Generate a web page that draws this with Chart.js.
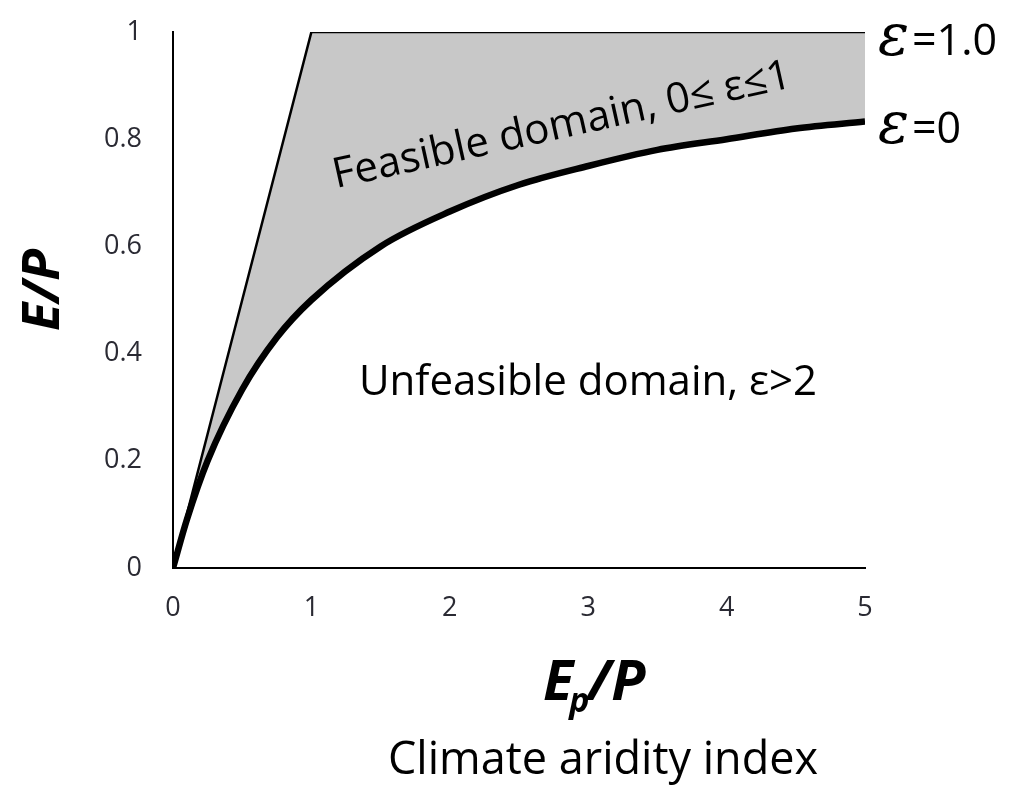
<!DOCTYPE html>
<html>
<head>
<meta charset="utf-8">
<script src="https://cdn.jsdelivr.net/npm/chart.js@4/dist/chart.umd.min.js"></script>
<style>
  html, body { margin: 0; padding: 0; background: #fff; }
  #wrap { width: 1019px; height: 785px; }
</style>
</head>
<body>
<div id="wrap"><canvas id="chart"></canvas></div>
<script>
// aridity index Ep/P
const aridity = [0, 0.1, 0.25, 0.5, 0.75, 1, 1.5, 2, 2.5, 3, 3.5, 4, 4.5, 5];
// upper bound, eps = 1.0
const upperLimit = [0, 0.1, 0.25, 0.5, 0.75, 1, 1, 1, 1, 1, 1, 1, 1, 1];
// lower bound, eps = 0
const lowerLimit = [0, 0.09, 0.2, 0.333, 0.43, 0.5, 0.6, 0.665, 0.715, 0.75, 0.78, 0.8, 0.82, 0.833];
const xTicks = [0, 1, 2, 3, 4, 5];
const yTicks = [0, 0.2, 0.4, 0.6, 0.8, 1];

const toPts = (ys) => aridity.map((x, i) => ({ x: x, y: ys[i] }));

const labelsPlugin = {
  id: "labels",
  afterDraw(chart) {
    const ctx = chart.ctx;
    ctx.save();
    ctx.fillStyle = "#000";

    // y title
    ctx.save();
    ctx.translate(44, 290);
    ctx.rotate(-Math.PI / 2);
    ctx.font = "italic bold 52px 'Open Sans'";
    ctx.textAlign = "center";
    ctx.textBaseline = "middle";
    ctx.fillText("E/P", 0, 0);
    ctx.restore();

    // x title with subscript
    ctx.font = "italic bold 56px 'Open Sans'";
    ctx.textBaseline = "alphabetic";
    ctx.textAlign = "left";
    let x = 543;
    ctx.fillText("E", x, 700);
    x += ctx.measureText("E").width;
    ctx.font = "italic bold 34px 'Open Sans'";
    ctx.fillText("p", x - 4, 712);
    x += ctx.measureText("p").width - 6;
    ctx.font = "italic bold 56px 'Open Sans'";
    ctx.fillText("/P", x, 700);

    ctx.font = "45px 'Open Sans'";
    ctx.textAlign = "center";
    ctx.fillText("Climate aridity index", 603, 774);

    // domains
    ctx.font = "42px 'Open Sans'";
    ctx.textBaseline = "middle";
    ctx.fillText("Unfeasible domain, \u03b5>2", 588, 383);

    ctx.save();
    ctx.translate(562, 126);
    ctx.rotate(-12.5 * Math.PI / 180);
    ctx.fillText("Feasible domain, 0\u2264 \u03b5\u22641", 0, 0);
    ctx.restore();

    // curve labels
    ctx.textAlign = "left";
    ctx.font = "italic 58px 'DejaVu Serif'";
    ctx.fillText("\u03b5", 878, 40);
    ctx.fillText("\u03b5", 878, 128);
    ctx.font = "43px 'Open Sans'";
    ctx.fillText("=1.0", 912, 43);
    ctx.fillText("=0", 912, 131);
    ctx.restore();
  }
};

new Chart(document.getElementById("chart"), {
  type: "line",
  data: {
    datasets: [
      {
        label: "eps = 1.0",
        data: toPts(upperLimit),
        borderColor: "#000",
        borderWidth: 2.5,
        pointRadius: 0,
        fill: "+1",
        backgroundColor: "#c8c8c8"
      },
      {
        label: "eps = 0",
        data: toPts(lowerLimit),
        borderColor: "#000",
        borderWidth: 6.5,
        pointRadius: 0,
        cubicInterpolationMode: "monotone",
        fill: false
      }
    ]
  },
  options: {
    responsive: true,
    maintainAspectRatio: false,
    animation: false,
    layout: { padding: { top: 32, right: 154, left: 0, bottom: 0 } },
    plugins: {
      legend: { display: false },
      tooltip: { enabled: false },
      filler: { drawTime: "beforeDatasetsDraw" }
    },
    scales: {
      x: {
        type: "linear",
        min: 0,
        max: 5,
        afterBuildTicks: (s) => { s.ticks = xTicks.map((v) => ({ value: v })); },
        afterFit: (s) => { s.height = 217; s.paddingLeft = 0; s.paddingRight = 0; },
        grid: { drawOnChartArea: false, drawTicks: false },
        border: { color: "#000", width: 2 },
        ticks: { color: "#2a2a33", font: { size: 27, family: "'Open Sans'" }, padding: 24, callback: (v) => String(v) }
      },
      y: {
        min: 0,
        max: 1,
        afterBuildTicks: (s) => { s.ticks = yTicks.map((v) => ({ value: v })); },
        afterFit: (s) => { s.width = 173; s.paddingTop = 0; s.paddingBottom = 0; },
        grid: { drawOnChartArea: false, drawTicks: false },
        border: { color: "#000", width: 2 },
        ticks: { color: "#2a2a33", font: { size: 27, family: "'Open Sans'" }, padding: 31, callback: (v) => String(v) }
      }
    }
  },
  plugins: [labelsPlugin]
});
</script>
</body>
</html>
